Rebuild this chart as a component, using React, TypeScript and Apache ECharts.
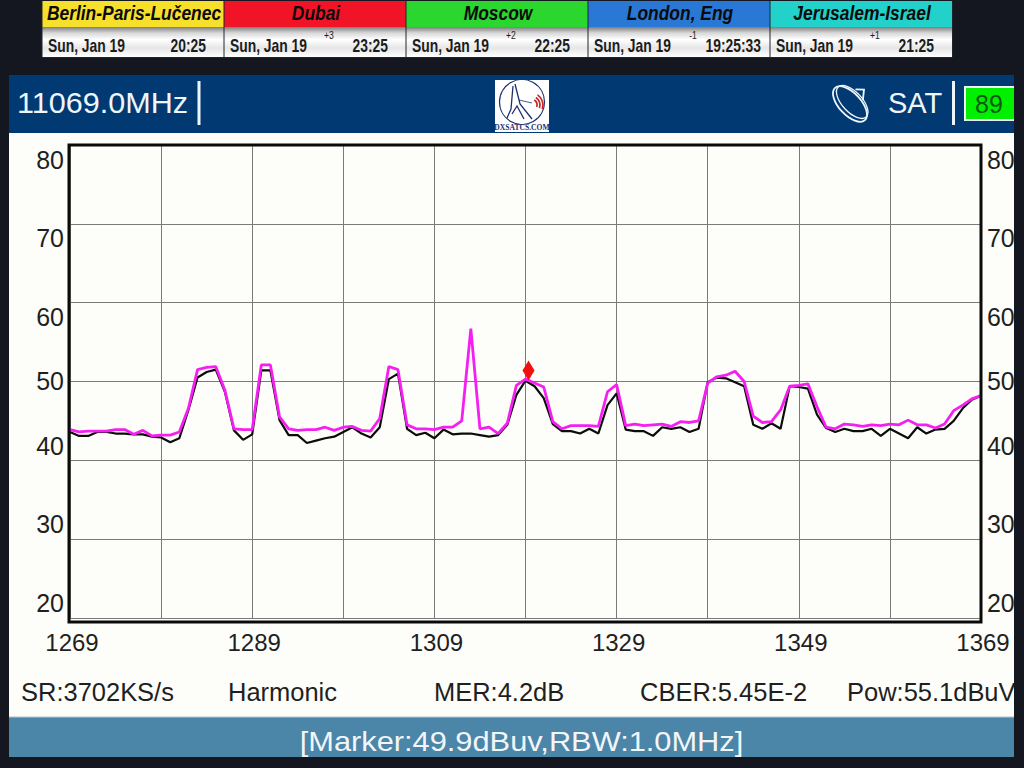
import React, { useEffect, useRef } from "react";
import * as echarts from "echarts";

const categories = Array.from({ length: 101 }, (_, i) => String(1269 + i));

const liveTrace = [
  43.9, 43.6, 43.7, 43.7, 43.7, 43.9, 43.9, 43.3, 43.8, 43.1, 43.2, 43.2, 43.6, 46.6, 51.5, 51.8, 51.9, 48.9, 44.0, 43.9,
  43.9, 52.1, 52.1, 45.5, 44.0, 43.8, 43.9, 43.9, 44.2, 43.8, 44.2, 44.3, 43.8, 43.7, 45.3, 51.9, 51.5, 44.5, 44.0, 44.0,
  43.9, 44.2, 44.2, 45.0, 56.7, 44.0, 44.2, 43.4, 44.7, 49.5, 50.3, 49.8, 49.3, 44.9, 44.0, 44.4, 44.4, 44.4, 44.3, 48.7,
  49.6, 44.4, 44.6, 44.4, 44.5, 44.6, 44.3, 44.9, 44.8, 45.0, 49.8, 50.6, 50.8, 51.3, 50.0, 45.6, 44.8, 44.9, 46.4, 49.4,
  49.5, 49.7, 46.8, 44.2, 44.0, 44.6, 44.5, 44.3, 44.5, 44.4, 44.6, 44.5, 45.1, 44.5, 44.5, 44.1, 44.6, 46.3, 47.0, 47.8,
  48.2,
];

const refTrace = [
  43.6, 43.1, 43.1, 43.6, 43.6, 43.4, 43.4, 43.3, 43.3, 43.0, 42.9, 42.3, 42.8, 46.4, 50.5, 51.2, 51.5, 48.7, 43.8, 42.6,
  43.3, 51.4, 51.4, 45.1, 43.2, 43.2, 42.2, 42.5, 42.8, 43.0, 43.6, 44.2, 43.4, 42.9, 44.2, 50.3, 51.0, 44.0, 43.2, 43.5,
  42.8, 43.9, 43.3, 43.4, 43.4, 43.2, 43.0, 43.2, 44.5, 48.3, 50.1, 49.4, 47.9, 44.6, 43.7, 43.7, 43.4, 44.0, 43.4, 47.0,
  48.5, 43.9, 43.7, 43.7, 43.1, 44.2, 44.0, 44.2, 43.6, 44.0, 49.9, 50.5, 50.4, 49.9, 49.4, 44.5, 44.0, 44.7, 44.0, 49.4,
  49.3, 49.1, 45.8, 44.1, 43.6, 44.0, 43.7, 43.7, 44.0, 43.1, 44.0, 43.4, 42.8, 44.2, 43.4, 43.9, 44.0, 45.0, 46.6, 47.7,
  48.2,
];

const markerCategory = "1319";
const markerValue = 51.4;
const yTickLabels = ["80", "70", "60", "50", "40", "30", "20"];
const yLabelCenters = [160, 238, 317, 381, 446, 524, 603];

const cityNames = ["Berlin-Paris-Lučenec", "Dubai", "Moscow", "London, Eng", "Jerusalem-Israel"];
const cityColors = ["#f6e02c", "#f11326", "#2bd62f", "#2a78d6", "#22d1c9"];
const cityOffsets = ["", "+3", "+2", "-1", "+1"];
const cityTimes = ["20:25", "23:25", "22:25", "19:25:33", "21:25"];
const cityDate = "Sun, Jan 19";

const footerLabels = ["SR:3702KS/s", "Harmonic", "MER:4.2dB", "CBER:5.45E-2", "Pow:55.1dBuV"];
const footerX = [21, 228, 434, 640, 847];

const SANS = "'Liberation Sans', Arial, sans-serif";

function txt(x: number, y: number, text: string, size: number, fill: string, extra: any = {}, sx = 1, z = 5) {
  const { align = "left", fontWeight = "normal", fontStyle = "normal", fontFamily = SANS } = extra;
  return {
    type: "text",
    x,
    y,
    scaleX: sx,
    z,
    style: { text, fill, fontSize: size, fontFamily, fontWeight, fontStyle, align, verticalAlign: "middle" },
  };
}

function buildGraphics() {
  const els: any[] = [];
  // panels
  els.push({ type: "rect", z: -5, shape: { x: 9, y: 75, width: 1005, height: 58 }, style: { fill: "#013a72" } });
  els.push({ type: "rect", z: -5, shape: { x: 9, y: 133, width: 1005, height: 584 }, style: { fill: "#fdfdf9" } });
  els.push({ type: "rect", z: -5, shape: { x: 9, y: 717, width: 1005, height: 40 }, style: { fill: "#4b85a8" } });
  els.push({ type: "line", z: -4, shape: { x1: 9, y1: 717, x2: 1014, y2: 717 }, style: { stroke: "#b8c4cc", lineWidth: 1 } });

  // world-clock strip
  const cellW = 182;
  const left = 42;
  cityNames.forEach((name, i) => {
    const x = left + i * cellW;
    els.push({ type: "rect", z: 1, shape: { x, y: 1, width: cellW, height: 26 }, style: { fill: cityColors[i] } });
    els.push({
      type: "rect",
      z: 1,
      shape: { x, y: 27, width: cellW, height: 30 },
      style: {
        fill: new echarts.graphic.LinearGradient(0, 0, 0, 1, [
          { offset: 0, color: "#7d7d7d" },
          { offset: 0.2, color: "#d8d8d8" },
          { offset: 0.42, color: "#ffffff" },
          { offset: 0.7, color: "#e6e6e6" },
          { offset: 1, color: "#ffffff" },
        ]),
      },
    });
    els.push({ type: "line", z: 2, shape: { x1: x, y1: 1, x2: x, y2: 57 }, style: { stroke: "#20242c", lineWidth: 1 } });
    els.push(txt(x + 92, 13, name, 21, "#0b0b0b", { align: "center", fontWeight: "bold", fontStyle: "italic" }, 0.83));
    els.push(txt(x + 6, 45, cityDate, 18, "#1c1c1c", { fontWeight: "bold" }, 0.77));
    if (cityOffsets[i]) els.push(txt(x + 105, 35, cityOffsets[i], 10.5, "#1c1c1c", { align: "center" }, 0.82));
    els.push(txt(x + (i === 3 ? 173 : 164), 45, cityTimes[i], 18, "#1c1c1c", { align: "right", fontWeight: "bold" }, 0.77));
  });
  els.push({ type: "line", z: 2, shape: { x1: 952.5, y1: 1, x2: 952.5, y2: 57 }, style: { stroke: "#20242c", lineWidth: 1 } });
  els.push({ type: "line", z: 2, shape: { x1: 42, y1: 57.5, x2: 952, y2: 57.5 }, style: { stroke: "#20242c", lineWidth: 1 } });

  // header
  els.push(txt(17, 103, "11069.0MHz", 29, "#eef6fb", {}, 1.055));
  els.push({ type: "line", z: 5, shape: { x1: 199, y1: 81, x2: 199, y2: 125 }, style: { stroke: "#eef6fb", lineWidth: 3 } });
  els.push(txt(888, 103, "SAT", 29, "#eef6fb"));
  els.push({ type: "line", z: 5, shape: { x1: 953.5, y1: 81, x2: 953.5, y2: 125 }, style: { stroke: "#eef6fb", lineWidth: 3 } });
  els.push({ type: "rect", z: 5, shape: { x: 965, y: 87, width: 60, height: 33 }, style: { fill: "#00f000", stroke: "#eef6fb", lineWidth: 2 } });
  els.push(txt(975, 104, "89", 25, "#0a5a12"));

  // dish icon
  els.push({
    type: "group",
    x: 850,
    y: 104,
    rotation: Math.PI / 4.2,
    z: 5,
    children: [
      { type: "ellipse", z: 5, shape: { cx: 0, cy: 0, rx: 11, ry: 22 }, style: { fill: "none", stroke: "#eef6fb", lineWidth: 1.8 } },
      { type: "ellipse", z: 5, shape: { cx: 3, cy: 0, rx: 10, ry: 20.5 }, style: { fill: "none", stroke: "#eef6fb", lineWidth: 1.3 } },
      { type: "polyline", z: 5, shape: { points: [[12, 6], [20, -1], [14, -7]] }, style: { fill: "none", stroke: "#eef6fb", lineWidth: 1.8 } },
    ],
  });

  // logo
  const ink = "#1d2f6f";
  els.push({ type: "rect", z: 5, shape: { x: 495, y: 80, width: 54, height: 52 }, style: { fill: "#ffffff" } });
  els.push({ type: "circle", z: 6, shape: { cx: 522, cy: 102, r: 22.5 }, style: { fill: "none", stroke: ink, lineWidth: 1.2 } });
  els.push({ type: "polyline", z: 6, shape: { points: [[515, 84], [520, 104], [532, 119]] }, style: { fill: "none", stroke: ink, lineWidth: 1.3 } });
  els.push({ type: "polyline", z: 6, shape: { points: [[513, 86], [511, 109], [507, 118]] }, style: { fill: "none", stroke: ink, lineWidth: 1.3 } });
  els.push({ type: "polyline", z: 6, shape: { points: [[512, 114], [517, 106], [524, 119]] }, style: { fill: "none", stroke: ink, lineWidth: 1.3 } });
  els.push({ type: "line", z: 6, shape: { x1: 519, y1: 100, x2: 532, y2: 103 }, style: { stroke: ink, lineWidth: 0.8 } });
  [6, 9, 12].forEach((r) => {
    els.push({ type: "arc", z: 6, shape: { cx: 531, cy: 105, r, startAngle: -1.0, endAngle: 0.35 }, style: { fill: "none", stroke: "#c62a2a", lineWidth: 1.7 } });
  });
  els.push(txt(522, 127, "DXSATCS.COM", 8, ink, { align: "center", fontWeight: "bold", fontFamily: "'Liberation Serif', serif" }, 0.95, 7));

  // plot frame
  els.push({ type: "rect", z: 20, shape: { x: 69, y: 145, width: 912, height: 477 }, style: { fill: "none", stroke: "#0a0a0a", lineWidth: 3 } });

  // y tick labels on both sides
  yTickLabels.forEach((label, i) => {
    els.push(txt(64, yLabelCenters[i], label, 26, "#1f1f1f", { align: "right" }, 0.96));
    els.push(txt(987, yLabelCenters[i], label, 26, "#1f1f1f", {}, 0.96));
  });

  // footer
  footerLabels.forEach((label, i) => {
    els.push(txt(footerX[i], 692, label, 26, "#1f1f1f", {}, 0.98));
  });
  els.push(txt(521.5, 741, "[Marker:49.9dBuv,RBW:1.0MHz]", 28.5, "#f2f6f9", { align: "center" }, 1.08));

  // page edge, clips the texts that run past the panel
  els.push({ type: "rect", z: 30, shape: { x: 1014, y: 60, width: 10, height: 708 }, style: { fill: "#14171f" } });
  return els;
}

export default function App() {
  const ref = useRef<HTMLDivElement>(null);
  useEffect(() => {
    document.body.style.margin = "0";
    const chart = echarts.init(ref.current!, undefined, { renderer: "svg" });
    chart.setOption({
      animation: false,
      backgroundColor: "#14171f",
      grid: { left: 70, right: 43, top: 145, height: 473, containLabel: false },
      xAxis: {
        type: "category",
        data: categories,
        boundaryGap: false,
        axisLine: { show: false },
        axisTick: { show: false },
        axisLabel: {
          interval: 19,
          margin: 12,
          fontSize: 24,
          padding: [0, 0, 0, 4],
          color: "#1f1f1f",
          fontFamily: SANS,
          showMaxLabel: true,
          hideOverlap: false,
        },
        splitLine: { show: true, interval: 9, lineStyle: { color: "#7a7a7a", width: 1 } },
      },
      yAxis: {
        type: "value",
        min: 20,
        max: 80,
        interval: 10,
        axisLine: { show: false },
        axisTick: { show: false },
        axisLabel: { show: false },
        splitLine: { show: true, lineStyle: { color: "#7a7a7a", width: 1 } },
      },
      series: [
        {
          name: "Reference",
          type: "line",
          data: refTrace,
          showSymbol: false,
          symbol: "none",
          lineStyle: { color: "#0c0c0c", width: 2.2 },
          z: 3,
        },
        {
          name: "Live",
          type: "line",
          data: liveTrace,
          showSymbol: false,
          symbol: "none",
          lineStyle: { color: "#f41ff0", width: 2.8 },
          z: 4,
          markPoint: {
            symbol: "diamond",
            symbolSize: [12, 20],
            symbolOffset: [3, 0],
            silent: true,
            label: { show: false },
            itemStyle: { color: "#f01010" },
            data: [{ coord: [markerCategory, markerValue] }],
          },
        },
      ],
      graphic: { elements: buildGraphics() },
    });
    return () => chart.dispose();
  }, []);
  return <div ref={ref} style={{ width: 1024, height: 768 }} />;
}
